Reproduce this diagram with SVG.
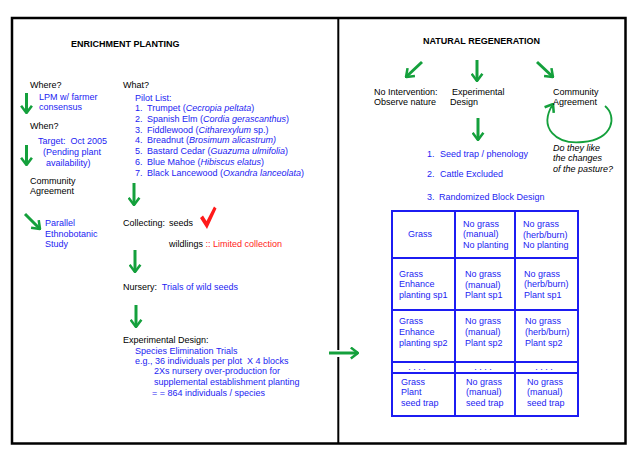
<svg xmlns="http://www.w3.org/2000/svg" width="638" height="467" viewBox="0 0 638 467">
<style>
text{font-family:"Liberation Sans",Arial,sans-serif;font-size:9px;fill:#000;white-space:pre}
.b{fill:#1c1cf2}
.r{fill:#ff1a1a}
.h{font-weight:bold}
.i{font-style:italic}
.g{stroke:#14a03c;stroke-width:3;fill:none;marker-end:url(#chev)}
.cell{fill:none;stroke:#1c1cf2;stroke-width:2}
</style>
<defs>
<marker id="chev" viewBox="0 0 10 14" refX="9" refY="7" markerWidth="9" markerHeight="13" markerUnits="userSpaceOnUse" orient="auto">
<path d="M1,1 L9,7 L1,13" fill="none" stroke="#14a03c" stroke-width="2.8"/>
</marker>
</defs>
<rect width="638" height="467" fill="#fff"/>
<g id="frame">
<rect x="12" y="18" width="613.5" height="425.5" fill="none" stroke="#000" stroke-width="2.5"/>
<line x1="338.3" y1="18" x2="338.3" y2="350" stroke="#000" stroke-width="2"/>
<line x1="338.3" y1="357" x2="338.3" y2="443" stroke="#000" stroke-width="2"/>
</g>
<g id="connectors">
<path class="g" d="M26.5,93 L26.5,113"/>
<path class="g" d="M26.5,145 L26.5,165"/>
<path class="g" d="M25,214 L40,229"/>
<path class="g" d="M134,183 L134,205"/>
<path class="g" d="M135,250 L135,272"/>
<path class="g" d="M136,305 L136,327"/>
<path class="g" d="M329,353 L358,353"/>
<path class="g" d="M422,62 L406,77"/>
<path class="g" d="M477,60 L477,81"/>
<path class="g" d="M537,62 L553,77"/>
<path class="g" d="M478,118 L478,140"/>
<path d="M605,106 C617,116 614,139 583,142 C556,145 538,128 553,104" fill="none" stroke="#14a03c" stroke-width="1.8" marker-end="url(#chev)"/>
</g>
<g id="enrichment">
<text x="71" y="47" class="h">ENRICHMENT PLANTING</text>
</g>
<g id="where">
<text x="30" y="88">Where?</text>
<text x="39" y="100" class="b">LPM w/ farmer</text>
<text x="39" y="110" class="b">consensus</text>
</g>
<g id="when">
<text x="30" y="129">When?</text>
<text x="38" y="144" class="b">Target:  Oct 2005</text>
<text x="43" y="155" class="b">(Pending plant</text>
<text x="46" y="166" class="b">availability)</text>
</g>
<g id="community-left">
<text x="30" y="184">Community</text>
<text x="30" y="194">Agreement</text>
</g>
<g id="ethno">
<text x="45" y="226" class="b">Parallel</text>
<text x="45" y="237" class="b">Ethnobotanic</text>
<text x="45" y="247" class="b">Study</text>
</g>
<g id="what">
<text x="123" y="88">What?</text>
<text x="135" y="101" class="b">Pilot List:</text>
<text x="135" y="111" class="b">1.</text><text x="147" y="111" class="b">Trumpet (<tspan class="i">Cecropia peltata</tspan>)</text>
<text x="135" y="122" class="b">2.</text><text x="147" y="122" class="b">Spanish Elm (<tspan class="i">Cordia gerascanthus</tspan>)</text>
<text x="135" y="133" class="b">3.</text><text x="147" y="133" class="b">Fiddlewood (<tspan class="i">Citharexylum</tspan> sp.)</text>
<text x="135" y="143" class="b">4.</text><text x="147" y="143" class="b">Breadnut (<tspan class="i">Brosimum alicastrum)</tspan></text>
<text x="135" y="154" class="b">5.</text><text x="147" y="154" class="b">Bastard Cedar (<tspan class="i">Guazuma ulmifolia</tspan>)</text>
<text x="135" y="165" class="b">6.</text><text x="147" y="165" class="b">Blue Mahoe (<tspan class="i">Hibiscus elatus</tspan>)</text>
<text x="135" y="176" class="b">7.</text><text x="147" y="176" class="b">Black Lancewood (<tspan class="i">Oxandra lanceolata</tspan>)</text>
</g>
<g id="collecting">
<text x="123" y="226">Collecting:</text>
<text x="169" y="226">seeds</text>
<path d="M200,218 L203,215.5 L206.5,221 L214,206.5 L216.5,208.5 L207,229 Z" fill="#ff1a1a"/>
<text x="169" y="247">wildlings <tspan class="r">:: Limited collection</tspan></text>
</g>
<g id="nursery">
<text x="123" y="290">Nursery:  <tspan class="b">Trials of wild seeds</tspan></text>
</g>
<g id="expdesign-left">
<text x="123" y="343">Experimental Design:</text>
<text x="135" y="354" class="b">Species Elimination Trials</text>
<text x="135" y="364" class="b">e.g., 36 individuals per plot  X 4 blocks</text>
<text x="154" y="374" class="b">2Xs nursery over-production for</text>
<text x="154" y="385" class="b">supplemental establishment planting</text>
<text x="152" y="396" class="b">= = 864 individuals / species</text>
</g>
<g id="natural">
<text x="423" y="44" class="h">NATURAL REGENERATION</text>
</g>
<g id="nointervention">
<text x="374" y="95">No Intervention:</text>
<text x="374" y="105">Observe nature</text>
</g>
<g id="expdesign-right">
<text x="452" y="95">Experimental</text>
<text x="450" y="105">Design</text>
</g>
<g id="community-right">
<text x="553" y="95">Community</text>
<text x="553" y="105">Agreement</text>
<text x="553" y="151" class="i">Do they like</text>
<text x="553" y="161" class="i">the changes</text>
<text x="553" y="172" class="i">of the pasture?</text>
</g>
<g id="steps">
<text x="427" y="157" class="b">1.</text><text x="440" y="157" class="b">Seed trap / phenology</text>
<text x="427" y="177" class="b">2.</text><text x="440" y="177" class="b">Cattle Excluded</text>
<text x="427" y="200" class="b">3.</text><text x="439" y="200" class="b">Randomized Block Design</text>
</g>
<g id="table">
<rect class="cell" x="392" y="211" width="186" height="205"/>
<line class="cell" x1="455" y1="211" x2="455" y2="416"/>
<line class="cell" x1="515" y1="211" x2="515" y2="416"/>
<line class="cell" x1="392" y1="258" x2="578" y2="258"/>
<line class="cell" x1="392" y1="310" x2="578" y2="310"/>
<line class="cell" x1="392" y1="362" x2="578" y2="362"/>
<line class="cell" x1="392" y1="373" x2="578" y2="373"/>
<text x="408" y="237" class="b">Grass</text>
<text x="463" y="227" class="b">No grass</text>
<text x="463" y="237" class="b">(manual)</text>
<text x="463" y="248" class="b">No planting</text>
<text x="523" y="227" class="b">No grass</text>
<text x="523" y="238" class="b">(herb/burn)</text>
<text x="523" y="248" class="b">No planting</text>
<text x="399" y="277" class="b">Grass</text>
<text x="399" y="287" class="b">Enhance</text>
<text x="399" y="298" class="b">planting sp1</text>
<text x="465" y="277" class="b">No grass</text>
<text x="465" y="288" class="b">(manual)</text>
<text x="465" y="298" class="b">Plant sp1</text>
<text x="524" y="277" class="b">No grass</text>
<text x="524" y="287" class="b">(herb/burn)</text>
<text x="524" y="298" class="b">Plant sp1</text>
<text x="399" y="324" class="b">Grass</text>
<text x="399" y="335" class="b">Enhance</text>
<text x="399" y="346" class="b">planting sp2</text>
<text x="465" y="324" class="b">No grass</text>
<text x="465" y="335" class="b">(manual)</text>
<text x="465" y="346" class="b">Plant sp2</text>
<text x="525" y="324" class="b">No grass</text>
<text x="525" y="335" class="b">(herb/burn)</text>
<text x="525" y="346" class="b">Plant sp2</text>
<text x="417" y="370" class="b" text-anchor="middle">. . . .</text>
<text x="483" y="370" class="b" text-anchor="middle">. . . .</text>
<text x="544" y="370" class="b" text-anchor="middle">. . . .</text>
<text x="401" y="385" class="b">Grass</text>
<text x="401" y="395" class="b">Plant</text>
<text x="401" y="406" class="b">seed trap</text>
<text x="466" y="385" class="b">No grass</text>
<text x="466" y="395" class="b">(manual)</text>
<text x="466" y="406" class="b">seed trap</text>
<text x="527" y="385" class="b">No grass</text>
<text x="527" y="395" class="b">(manual)</text>
<text x="527" y="406" class="b">seed trap</text>
</g>
</svg>
